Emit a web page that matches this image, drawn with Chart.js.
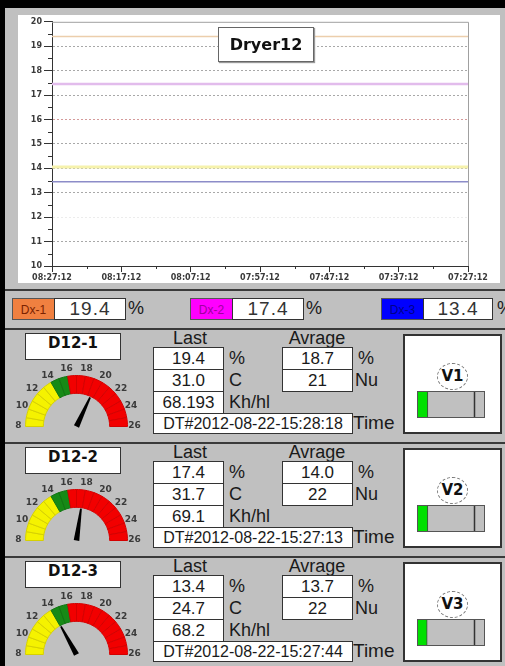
<!DOCTYPE html>
<html>
<head>
<meta charset="utf-8">
<script src="https://cdn.jsdelivr.net/npm/chart.js@4.4.0/dist/chart.umd.min.js"></script>
<style>
html, body { margin: 0; padding: 0; background: #000; }
body { width: 505px; height: 666px; position: relative; overflow: hidden; font-family: 'Liberation Sans', Arial, sans-serif; color: #1a1a1a; }
.abs { position: absolute; }
#frame { left: 5px; top: 8px; width: 500px; height: 282px; background: #c0c0c0; }
#white { left: 18px; top: 15px; width: 482px; height: 268px; background: #fff; }
#trend { left: 18px; top: 15px; }
#title { left: 218px; top: 27px; width: 94px; height: 33px; background: #fff; border: 1px solid #666; box-shadow: 1px 1px 1px #999;
  font: bold 16px 'DejaVu Sans', sans-serif; text-align: center; line-height: 33px; color: #111; }
.band { left: 5px; width: 500px; background: #c0c0c0; border-top: 2px solid #3a3a3a; box-sizing: border-box; }
.tag { height: 22px; line-height: 22px; font-size: 12px; text-align: center; box-sizing: border-box; border: 1px solid #555; }
.box { background: #fff; border: 1px solid #333; box-sizing: border-box; text-align: center; }
.lbl { font-size: 18px; line-height: 22px; white-space: nowrap; }
.valve { background: #fff; border: 2px solid #333; box-sizing: border-box; }
.ring { border: 1px dashed #777; border-radius: 50%; box-sizing: border-box; text-align: center;
  font: bold 15px 'DejaVu Sans', sans-serif; color: #111; }
</style>
</head>
<body>
<div id="frame" class="abs"></div>
<div id="white" class="abs"></div>
<canvas id="trend" class="abs" width="482" height="268"></canvas>
<div id="title" class="abs">Dryer12</div>
<div id="legendRow" class="abs band" style="top:289px;height:40px;"></div>

<script>
// trend data
const timeLabels = ['08:27:12', '08:17:12', '08:07:12', '07:57:12', '07:47:12', '07:37:12', '07:27:12'];
const trendDx1 = [19.4, 19.4, 19.4, 19.4, 19.4, 19.4, 19.4];
const trendDx2 = [17.45, 17.45, 17.45, 17.45, 17.45, 17.45, 17.45];
const trendAvg = [14.05, 14.05, 14.05, 14.05, 14.05, 14.05, 14.05];
const trendDx3 = [13.45, 13.45, 13.45, 13.45, 13.45, 13.45, 13.45];

// legend row
const dxNames = ['Dx-1', 'Dx-2', 'Dx-3'];
const dxValues = ['19.4', '17.4', '13.4'];

// dryer panels
const panelNames = ['D12-1', 'D12-2', 'D12-3'];
const lastPct = ['19.4', '17.4', '13.4'];
const lastTemp = ['31.0', '31.7', '24.7'];
const lastFlow = ['68.193', '69.1', '68.2'];
const lastTime = ['DT#2012-08-22-15:28:18', 'DT#2012-08-22-15:27:13', 'DT#2012-08-22-15:27:44'];
const avgPct = ['18.7', '14.0', '13.7'];
const avgNu = ['21', '22', '22'];
const needleValues = [19.5, 17.8, 14.1];
const valveNames = ['V1', 'V2', 'V3'];
const valveOpen = [16, 16, 15];
const valveMark = [84, 84, 84];

// gauge scale
const gaugeMin = 8;
const gaugeMax = 26;
const gaugeTicks = [8, 10, 12, 14, 16, 18, 20, 22, 24, 26];
const gaugeSegments = [1, 1, 1, 1, 1, 1, 1, 1, 1, 1, 1, 1, 1, 1, 1, 1, 1, 1];
const gaugeBandEnds = [14, 16, 26];

const bandFill = ['#f5f200', '#168a16', '#f20000'];
const bandEdge = ['#d6d000', '#117511', '#d40000'];
const tagFill = ['#f08040', '#ff00ff', '#0000ff'];
const tagText = ['#7a2200', '#a000a0', '#00008a'];
const tagLeft = [12, 190, 381];

const panelTop = [330, 444, 558];

// ---------- trend chart ----------
const minorTicks = {
    id: 'minorTicks',
    afterDraw(chart) {
        const ctx = chart.ctx;
        const xs = chart.scales.x, ys = chart.scales.y;
        const area = chart.chartArea;
        ctx.save();
        ctx.strokeStyle = '#a0a0a0';
        ctx.lineWidth = 1;
        ctx.beginPath();
        ctx.moveTo(area.left, area.top + 0.5);
        ctx.lineTo(area.right + 0.5, area.top + 0.5);
        ctx.lineTo(area.right + 0.5, area.bottom);
        ctx.stroke();
        ctx.strokeStyle = '#333';
        ctx.beginPath();
        for (let i = 0; i < timeLabels.length - 1; i++) {
            const px = Math.round((xs.getPixelForValue(i) + xs.getPixelForValue(i + 1)) / 2) + 0.5;
            ctx.moveTo(px, area.bottom);
            ctx.lineTo(px, area.bottom + 3);
        }
        for (let v = ys.min; v < ys.max; v++) {
            const py = Math.round(ys.getPixelForValue(v + 0.5)) + 0.5;
            ctx.moveTo(area.left - 4, py);
            ctx.lineTo(area.left, py);
        }
        ctx.stroke();
        ctx.restore();
    }
};

const tickFont = { family: 'DejaVu Sans', size: 8, weight: 'bold' };

new Chart(document.getElementById('trend'), {
    type: 'line',
    data: {
        labels: timeLabels,
        datasets: [
            { label: 'Dx-1', data: trendDx1, borderColor: 'rgb(236,206,172)', borderWidth: 1.5 },
            { label: 'Dx-2', data: trendDx2, borderColor: 'rgb(226,188,236)', borderWidth: 2.5 },
            { label: 'Avg', data: trendAvg, borderColor: 'rgb(246,242,172)', borderWidth: 3 },
            { label: 'Dx-3', data: trendDx3, borderColor: 'rgb(140,140,200)', borderWidth: 1.5 }
        ]
    },
    options: {
        responsive: false,
        animation: false,
        devicePixelRatio: 1,
        layout: { padding: { left: 0, right: 32, top: 4, bottom: 0 } },
        elements: { point: { radius: 0 }, line: { tension: 0 } },
        plugins: { legend: { display: false }, tooltip: { enabled: false } },
        scales: {
            x: {
                ticks: { font: tickFont, color: '#3a3a3a', padding: 1, maxRotation: 0, autoSkip: false },
                grid: { drawOnChartArea: false, tickLength: 6, tickColor: '#333' },
                border: { color: '#333' },
                afterFit: s => { s.height = 17; }
            },
            y: {
                min: 10, max: 20,
                ticks: { stepSize: 1, font: tickFont, color: '#3a3a3a', padding: 2 },
                grid: {
                    color: c => {
                        const v = c.tick ? c.tick.value : 0;
                        if (v === 10 || v === 20) return 'rgba(0,0,0,0)';
                        if (v === 16) return '#d49a9a';
                        if (v === 12) return '#ececec';
                        return '#a8a8a8';
                    },
                    tickColor: '#333', tickLength: 8, tickBorderDash: []
                },
                border: { color: '#333', dash: [2, 2] },
                afterFit: s => { s.width = 34; }
            }
        }
    },
    plugins: [minorTicks]
});

// ---------- legend row ----------
function addDiv(cls, style, text) {
    const d = document.createElement('div');
    d.className = 'abs ' + cls;
    d.setAttribute('style', style);
    if (text !== undefined) d.textContent = text;
    document.body.appendChild(d);
    return d;
}

dxNames.forEach((name, i) => {
    const x = tagLeft[i];
    addDiv('tag', `left:${x}px;top:298px;width:43px;background:${tagFill[i]};color:${tagText[i]};`, name);
    addDiv('box', `left:${x + 42}px;top:298px;width:${i === 2 ? 70 : 72}px;height:22px;font-size:19px;line-height:20px;letter-spacing:1px;color:#333;`, dxValues[i]);
    addDiv('lbl', `left:${x + 116}px;top:297px;`, '%');
});

// ---------- panels ----------
const needle = {
    id: 'needle',
    afterDatasetsDraw(chart, args, opts) {
        const arc = chart.getDatasetMeta(0).data[0];
        const cx = arc.x, cy = arc.y;
        const ctx = chart.ctx;
        ctx.save();
        // scale labels
        ctx.font = 'bold 9px "DejaVu Sans"';
        ctx.fillStyle = '#3a3a3a';
        ctx.textAlign = 'center';
        ctx.textBaseline = 'middle';
        gaugeTicks.forEach(v => {
            const a = Math.PI + (v - gaugeMin) / (gaugeMax - gaugeMin) * Math.PI;
            const r = arc.outerRadius + 7;
            ctx.fillText(String(v), cx + r * Math.cos(a), cy + r * Math.sin(a) - 1);
        });
        // needle
        const a = Math.PI + (opts.value - gaugeMin) / (gaugeMax - gaugeMin) * Math.PI;
        const len = arc.innerRadius - 1;
        const nx = Math.cos(a), ny = Math.sin(a);
        const px = -ny, py = nx;
        ctx.fillStyle = '#000';
        ctx.beginPath();
        ctx.moveTo(cx + px * 2.8, cy + py * 2.8);
        ctx.lineTo(cx + nx * len + px * 0.9, cy + ny * len + py * 0.9);
        ctx.lineTo(cx + nx * len - px * 0.9, cy + ny * len - py * 0.9);
        ctx.lineTo(cx - px * 2.8, cy - py * 2.8);
        ctx.closePath();
        ctx.fill();
        ctx.restore();
    }
};

const valveFrame = {
    id: 'valveFrame',
    beforeDatasetsDraw(chart) {
        const { ctx, chartArea: a } = chart;
        ctx.save();
        ctx.fillStyle = '#c0c0c0';
        ctx.fillRect(a.left, a.top, a.right - a.left, a.bottom - a.top);
        ctx.restore();
    },
    afterDatasetsDraw(chart, args, opts) {
        const { ctx, chartArea: a } = chart;
        const mx = Math.round(chart.scales.x.getPixelForValue(opts.mark)) + 0.5;
        ctx.save();
        ctx.strokeStyle = '#333';
        ctx.lineWidth = 1.5;
        ctx.beginPath();
        ctx.moveTo(mx, a.top);
        ctx.lineTo(mx, a.bottom);
        ctx.stroke();
        ctx.lineWidth = 1;
        ctx.strokeStyle = '#555';
        ctx.strokeRect(a.left + 0.5, a.top + 0.5, a.right - a.left - 1, a.bottom - a.top - 1);
        ctx.restore();
    }
};

function bandIndex(i) {
    const v = gaugeMin + i + 0.5;
    return gaugeBandEnds.findIndex(e => v < e);
}

panelNames.forEach((name, i) => {
    const T = panelTop[i];
    addDiv('band', `top:${T - 2}px;height:${i === 2 ? 666 - T + 2 : 116}px;`);
    addDiv('box', `left:25px;top:${T + 3}px;width:96px;height:27px;line-height:25px;font:bold 15px 'DejaVu Sans',sans-serif;color:#111;`, name);

    addDiv('lbl', `left:150px;top:${T - 3}px;width:80px;text-align:center;`, 'Last');
    addDiv('lbl', `left:277px;top:${T - 3}px;width:80px;text-align:center;`, 'Avrage');

    const rows = [lastPct[i], lastTemp[i], lastFlow[i]];
    const units = ['%', 'C', 'Kh/hl'];
    rows.forEach((v, r) => {
        addDiv('box', `left:153px;top:${T + 17 + r * 22}px;width:71px;height:23px;font-size:17px;line-height:21px;`, v);
        addDiv('lbl', `left:229px;top:${T + 17 + r * 22}px;`, units[r]);
    });
    addDiv('box', `left:153px;top:${T + 83}px;width:200px;height:21px;font-size:16px;line-height:19px;`, lastTime[i]);
    addDiv('lbl', `left:353px;top:${T + 82}px;font-size:19px;`, 'Time');

    [avgPct[i], avgNu[i]].forEach((v, r) => {
        addDiv('box', `left:282px;top:${T + 17 + r * 22}px;width:71px;height:23px;font-size:17px;line-height:21px;`, v);
        addDiv('lbl', `left:${r === 0 ? 358 : 355}px;top:${T + 17 + r * 22}px;`, r === 0 ? '%' : 'Nu');
    });

    addDiv('valve', `left:403px;top:${T + 4}px;width:99px;height:100px;`);
    addDiv('ring', `left:437px;top:${T + 33}px;width:31px;height:27px;line-height:25px;`, valveNames[i]);

    // gauge
    const g = document.createElement('canvas');
    g.className = 'abs';
    g.width = 140; g.height = 74;
    g.setAttribute('style', `left:8px;top:${T + 30}px;`);
    document.body.appendChild(g);
    new Chart(g, {
        type: 'doughnut',
        data: {
            labels: gaugeSegments.map((s, k) => String(gaugeMin + k)),
            datasets: [{
                data: gaugeSegments,
                backgroundColor: gaugeSegments.map((s, k) => bandFill[bandIndex(k)]),
                borderColor: gaugeSegments.map((s, k) => bandEdge[bandIndex(k)]),
                borderWidth: 1
            }]
        },
        options: {
            responsive: false,
            animation: false,
            devicePixelRatio: 1,
            rotation: -90,
            circumference: 180,
            cutout: '65%',
            layout: { padding: { left: 17, right: 20, top: 15, bottom: 7 } },
            plugins: { legend: { display: false }, tooltip: { enabled: false }, needle: { value: needleValues[i] } }
        },
        plugins: [needle]
    });

    // valve bar
    const b = document.createElement('canvas');
    b.className = 'abs';
    b.width = 68; b.height = 27;
    b.setAttribute('style', `left:417px;top:${T + 61}px;`);
    document.body.appendChild(b);
    new Chart(b, {
        type: 'bar',
        data: {
            labels: [valveNames[i]],
            datasets: [{
                data: [valveOpen[i]],
                backgroundColor: '#00e000',
                borderColor: '#444',
                borderWidth: 1,
                borderSkipped: false,
                barPercentage: 1,
                categoryPercentage: 1
            }]
        },
        options: {
            indexAxis: 'y',
            responsive: false,
            animation: false,
            devicePixelRatio: 1,
            layout: { padding: 0 },
            scales: { x: { display: false, min: 0, max: 100 }, y: { display: false } },
            plugins: { legend: { display: false }, tooltip: { enabled: false }, valveFrame: { mark: valveMark[i] } }
        },
        plugins: [valveFrame]
    });
});
</script>
</body>
</html>
